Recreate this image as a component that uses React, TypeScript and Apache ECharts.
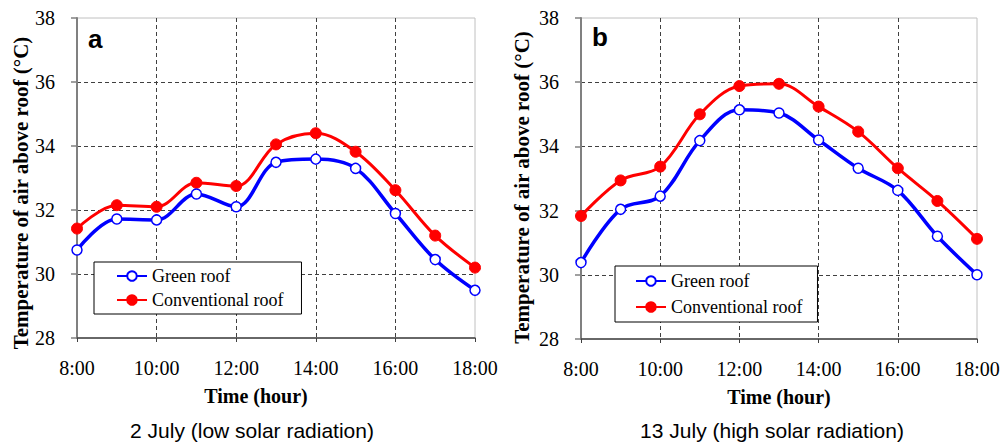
import React, { useEffect, useRef } from "react";
import * as echarts from "echarts";

const hours = ["8:00", "9:00", "10:00", "11:00", "12:00", "13:00", "14:00", "15:00", "16:00", "17:00", "18:00"];
const greenA = [30.75, 31.72, 31.69, 32.5, 32.1, 33.49, 33.59, 33.3, 31.89, 30.45, 29.49];
const convA = [31.42, 32.15, 32.1, 32.85, 32.75, 34.05, 34.4, 33.82, 32.62, 31.2, 30.2];
const greenB = [30.38, 32.04, 32.45, 34.18, 35.14, 35.04, 34.2, 33.32, 32.63, 31.2, 30.0];
const convB = [31.83, 32.94, 33.37, 35.0, 35.88, 35.95, 35.24, 34.46, 33.32, 32.3, 31.12];
const seriesNames = ["Green roof", "Conventional roof"];
const yTitle = "Temperature of air above roof (°C)";
const xTitle = "Time (hour)";
const captions = ["2 July (low solar radiation)", "13 July (high solar radiation)"];
const panelLetters = ["a", "b"];

const SERIF = "'Liberation Serif', 'Times New Roman', serif";
const SANS = "'Liberation Sans', Arial, sans-serif";

function xAxisFor(idx: number, namePad: number[]) {
  return {
    type: "category",
    gridIndex: idx,
    data: hours,
    boundaryGap: false,
    axisLine: { show: true, lineStyle: { color: "#404040", width: 1.5 } },
    axisTick: { show: true, interval: 1, length: 4, lineStyle: { color: "#404040" } },
    axisLabel: { interval: 1, margin: 20, fontFamily: SERIF, fontSize: 20, color: "#000" },
    splitLine: {
      show: true,
      interval: 1,
      showMinLine: false,
      showMaxLine: false,
      lineStyle: { color: "#404040", type: [4, 3], width: 1 },
    },
    name: xTitle,
    nameLocation: "middle",
    nameGap: 48,
    nameTextStyle: { fontFamily: SERIF, fontSize: 20, fontWeight: "bold", color: "#000", padding: namePad },
  };
}

function yAxisFor(idx: number, gap: number, namePad: number[]) {
  return {
    type: "value",
    gridIndex: idx,
    min: 28,
    max: 38,
    interval: 2,
    axisLine: { show: true, lineStyle: { color: "#808080", width: 2 } },
    axisTick: { show: true, length: 6, lineStyle: { color: "#808080", width: 1.5 } },
    axisLabel: { margin: 22, fontFamily: SERIF, fontSize: 20, color: "#000" },
    splitLine: {
      show: true,
      showMinLine: false,
      showMaxLine: false,
      lineStyle: { color: "#404040", type: [4, 3], width: 1 },
    },
    name: yTitle,
    nameLocation: "middle",
    nameGap: gap,
    nameTextStyle: { fontFamily: SERIF, fontSize: 21, fontWeight: "bold", color: "#000", padding: namePad },
  };
}

function greenSeries(idx: number, data: number[]) {
  return {
    type: "line",
    name: seriesNames[0],
    xAxisIndex: idx,
    yAxisIndex: idx,
    data,
    smooth: 0.35,
    symbol: "circle",
    symbolSize: 10,
    showAllSymbol: true,
    lineStyle: { color: "#0000ff", width: 3.5 },
    itemStyle: { color: "#ffffff", borderColor: "#0000ff", borderWidth: 1.5 },
    z: 3,
  };
}

function convSeries(idx: number, data: number[]) {
  return {
    type: "line",
    name: seriesNames[1],
    xAxisIndex: idx,
    yAxisIndex: idx,
    data,
    smooth: 0.35,
    symbol: "circle",
    symbolSize: 11,
    showAllSymbol: true,
    lineStyle: { color: "#ff0000", width: 3 },
    itemStyle: { color: "#ff0000", borderColor: "#ff0000", borderWidth: 1 },
    z: 2,
  };
}

function legendFor(left: number, top: number, pad: number[], gap: number) {
  return {
    orient: "vertical",
    left,
    top,
    data: seriesNames,
    backgroundColor: "#ffffff",
    borderColor: "#000000",
    borderWidth: 1,
    borderRadius: 0,
    padding: pad,
    itemGap: gap,
    itemWidth: 30,
    itemHeight: 12,
    selectedMode: false,
    textStyle: { fontFamily: SERIF, fontSize: 18, color: "#000" },
  };
}

export default function App() {
  const ref = useRef<HTMLDivElement>(null);
  useEffect(() => {
    if (!ref.current) return;
    const chart = echarts.init(ref.current, null, { renderer: "svg" });
    chart.setOption({
      animation: false,
      backgroundColor: "#ffffff",
      grid: [
        { left: 77, right: 528, top: 18, bottom: 104, show: true, borderColor: "#c0c0c0", borderWidth: 1, backgroundColor: "transparent" },
        { left: 581, right: 26, top: 18, bottom: 103, show: true, borderColor: "#c0c0c0", borderWidth: 1, backgroundColor: "transparent" },
      ],
      xAxis: [xAxisFor(0, [0, 40, 0, 0]), xAxisFor(1, [0, 0, 0, 0])],
      yAxis: [yAxisFor(0, 46, [0, 30, 0, 0]), yAxisFor(1, 49, [0, 18, 0, 0])],
      legend: [
        legendFor(94, 262, [5, 18, 5, 22], 6),
        legendFor(615, 266, [6, 15, 6, 20], 8),
      ],
      series: [greenSeries(0, greenA), convSeries(0, convA), greenSeries(1, greenB), convSeries(1, convB)],
      graphic: [
        { type: "text", left: 88, top: 26, style: { text: panelLetters[0], font: `bold 26px ${SANS}`, fill: "#000" } },
        { type: "text", left: 592, top: 24, style: { text: panelLetters[1], font: `bold 26px ${SANS}`, fill: "#000" } },
        { type: "text", x: 252, y: 430, style: { text: captions[0], font: `21px ${SANS}`, fill: "#000", textAlign: "center", textVerticalAlign: "middle" } },
        { type: "text", x: 772, y: 430, style: { text: captions[1], font: `21px ${SANS}`, fill: "#000", textAlign: "center", textVerticalAlign: "middle" } },
      ],
    });
    return () => chart.dispose();
  }, []);
  return <div ref={ref} style={{ position: "absolute", left: 0, top: 0, width: 1003, height: 442 }} />;
}
